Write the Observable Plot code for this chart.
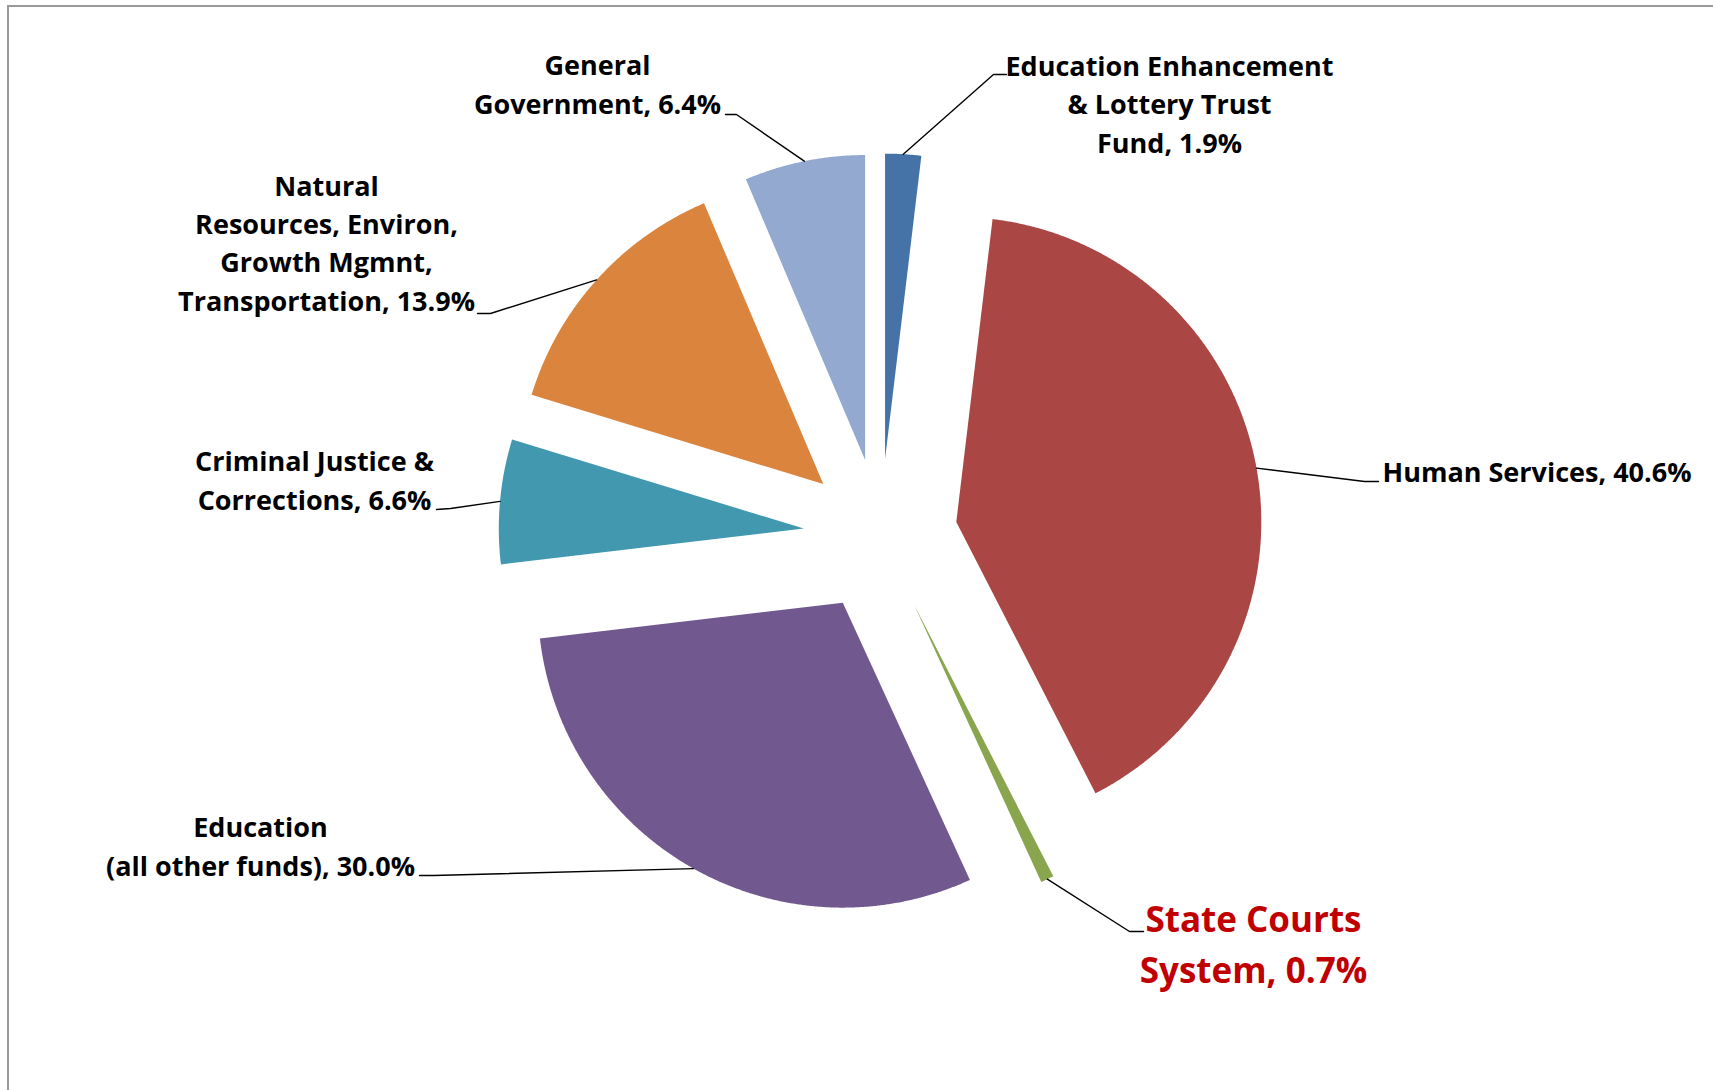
<!DOCTYPE html>
<html><head><meta charset="utf-8">
<script src="https://cdn.jsdelivr.net/npm/d3@7"></script>
<script src="https://cdn.jsdelivr.net/npm/@observablehq/plot@0.6"></script>
<style>
html,body{margin:0;padding:0;background:#fff;overflow:hidden}
#wrap{position:relative;width:1713px;height:1090px;overflow:hidden}
#frame{position:absolute;left:7px;top:5px;width:1800px;height:1200px;border-top:2px solid #9a9a9a;border-left:2px solid #9a9a9a;box-sizing:border-box}
#chart{position:absolute;left:0;top:0}
</style></head><body>
<div id="wrap"><div id="frame"></div><div id="chart"></div></div>
<script>
// ---- data (clockwise from 12 o'clock) ----
const categories = [
  "Education Enhancement & Lottery Trust Fund",
  "Human Services",
  "State Courts System",
  "Education (all other funds)",
  "Criminal Justice & Corrections",
  "Natural Resources, Environ, Growth Mgmnt, Transportation",
  "General Government"
];
const shares = [1.9, 40.6, 0.7, 30.0, 6.6, 13.9, 6.4];
const labelNames = [
  ["Education Enhancement", "& Lottery Trust", "Fund,"],
  ["Human Services,"],
  ["State Courts", "System,"],
  ["Education", "(all other funds),"],
  ["Criminal Justice &", "Corrections,"],
  ["Natural", "Resources, Environ,", "Growth Mgmnt,", "Transportation,"],
  ["General", "Government,"]
];
const highlighted = ["State Courts System"];
const colors = ["#4572A7", "#AA4643", "#89A54E", "#71588F", "#4198AF", "#DB843D", "#93A9CF"];

// ---- layout ----
const W = 1713, H = 1090;
const CX = 880, CY = 535, R = 305, EXPLODE = 77;
// label placement: anchor point (x, baseline of last line), text anchor, leader elbow and end
const labelLayout = [
  {x: 1169, y: 152, anchor: "middle", elbow: [993, 74],  end: [1006, 74]},
  {x: 1382, y: 481, anchor: "start",  elbow: [1364, 481], end: [1378, 481]},
  {x: 1253, y: 982, anchor: "middle", elbow: [1129, 931], end: [1143, 931]},
  {x: 260,  y: 875, anchor: "middle", elbow: [433, 875],  end: [419, 875]},
  {x: 314,  y: 509, anchor: "middle", elbow: [450, 508],  end: [436, 509]},
  {x: 326,  y: 310, anchor: "middle", elbow: [490, 313],  end: [477, 313]},
  {x: 597,  y: 113, anchor: "middle", elbow: [736, 114],  end: [725, 114]}
];

const table = categories.map((c, i) => ({category: c, share: shares[i], names: labelNames[i], layout: labelLayout[i]}));
const arcs = d3.pie().sort(null).value(d => d.share).startAngle(0).endAngle(2 * Math.PI)(table);

const slicePts = [];
const leaderPts = [];
const labels = [];
const fmt = d3.format(".1f");
arcs.forEach(a => {
  const d = a.data;
  const mid = (a.startAngle + a.endAngle) / 2;
  const ax = CX + EXPLODE * Math.sin(mid), ay = CY - EXPLODE * Math.cos(mid);
  slicePts.push({category: d.category, x: ax, y: ay});
  const n = Math.max(2, Math.ceil((a.endAngle - a.startAngle) / (Math.PI / 720)));
  for (let k = 0; k <= n; ++k) {
    const t = a.startAngle + (a.endAngle - a.startAngle) * k / n;
    slicePts.push({category: d.category, x: ax + R * Math.sin(t), y: ay - R * Math.cos(t)});
  }
  slicePts.push({category: d.category, x: ax, y: ay});
  const L = d.layout;
  leaderPts.push({category: d.category, x: ax + R * Math.sin(mid), y: ay - R * Math.cos(mid)});
  leaderPts.push({category: d.category, x: L.elbow[0], y: L.elbow[1]});
  leaderPts.push({category: d.category, x: L.end[0], y: L.end[1]});
  const lines = d.names.slice();
  lines[lines.length - 1] += " " + fmt(d.share) + "%";
  labels.push({category: d.category, text: lines.join("\n"), x: L.x, y: L.y, anchor: L.anchor, hi: highlighted.includes(d.category)});
});

const font = "'Open Sans', Lato, sans-serif";
const chart = Plot.plot({
  width: W, height: H,
  margin: 0,
  x: {domain: [0, W], range: [0, W], axis: null},
  y: {domain: [0, H], range: [0, H], axis: null},
  color: {domain: categories, range: colors},
  style: {background: "transparent"},
  marks: [
    Plot.line(slicePts, {x: "x", y: "y", z: "category", fill: "category", stroke: "none"}),
    Plot.line(leaderPts, {x: "x", y: "y", z: "category", stroke: "#000", strokeWidth: 1.4}),
    Plot.text(labels.filter(d => !d.hi && d.anchor === "middle"), {x: "x", y: "y", text: "text", textAnchor: "middle", lineAnchor: "bottom", lineHeight: 1.41, fontSize: 27, fontWeight: "bold", fontFamily: font, fill: "#000"}),
    Plot.text(labels.filter(d => !d.hi && d.anchor === "start"), {x: "x", y: "y", text: "text", textAnchor: "start", lineAnchor: "bottom", lineHeight: 1.41, fontSize: 27, fontWeight: "bold", fontFamily: font, fill: "#000"}),
    Plot.text(labels.filter(d => d.hi), {x: "x", y: "y", text: "text", textAnchor: "middle", lineAnchor: "bottom", lineHeight: 1.43, fontSize: 35, fontWeight: "bold", fontFamily: font, fill: "#C00000"})
  ]
});
document.getElementById("chart").appendChild(chart);
</script>
</body></html>
